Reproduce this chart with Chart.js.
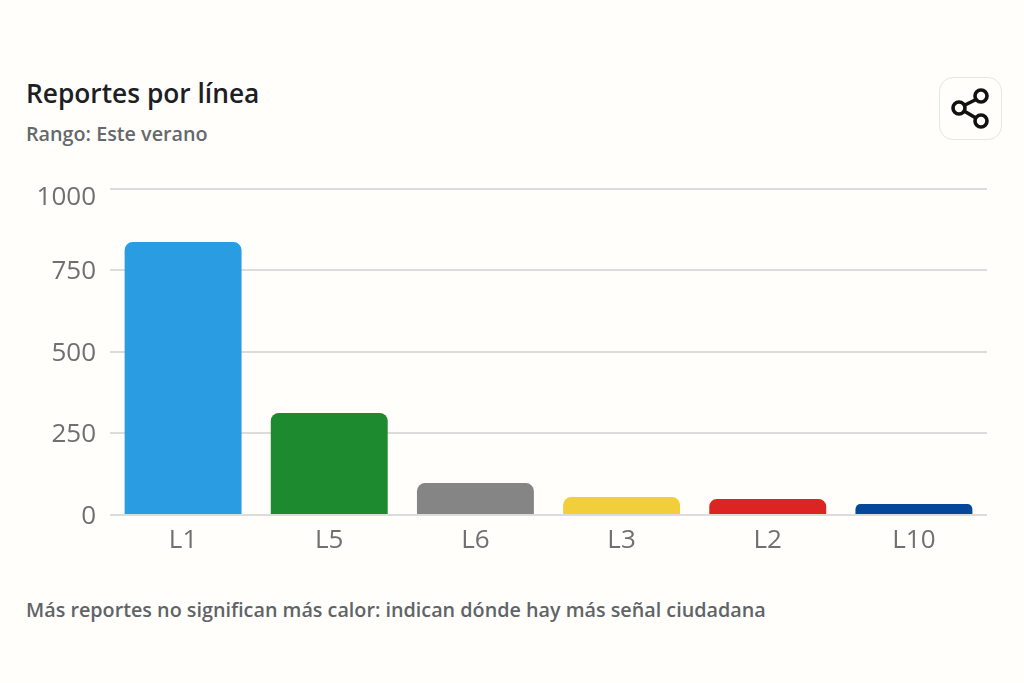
<!DOCTYPE html>
<html lang="es">
<head>
<meta charset="utf-8">
<title>Reportes por línea</title>
<script src="https://cdn.jsdelivr.net/npm/chart.js@4"></script>
<style>
  html, body { margin: 0; padding: 0; background: #fffefb; }
  body { position: relative; width: 1024px; height: 683px; overflow: hidden; font-family: "Open Sans", sans-serif; }
  .txt { position: absolute; left: 26px; white-space: nowrap; }
  #title { top: 75px; font-size: 26.3px; font-weight: 600; color: #1c2024; }
  #range { top: 120px; font-size: 19.75px; font-weight: 600; color: #63696c; }
  #note { top: 596px; font-size: 19.75px; font-weight: 600; color: #5e6467; }
  #share { position: absolute; left: 939px; top: 77px; width: 61px; height: 61px; border: 1px solid #e6e6e3; border-radius: 14px; background: #fffefb; }
  #share svg { position: absolute; left: 0; top: 0; }
  #wrap { position: absolute; left: 0; top: 158px; width: 1000px; height: 412px; }
</style>
</head>
<body>
<div class="txt" id="title">Reportes por línea</div>
<div class="txt" id="range">Rango: Este verano</div>
<div id="share">
  <svg width="61" height="61" viewBox="0 0 61 61" fill="none" stroke="#111" stroke-width="3.6">
    <line x1="19" y1="30" x2="41" y2="19"></line>
    <line x1="19" y1="30" x2="41" y2="43"></line>
    <circle cx="41" cy="18" r="6" fill="#fffefb"></circle>
    <circle cx="19" cy="30" r="6" fill="#fffefb"></circle>
    <circle cx="41" cy="43" r="6" fill="#fffefb"></circle>
  </svg>
</div>
<div id="wrap"><canvas id="chart" width="1000" height="412"></canvas></div>
<div class="txt" id="note">Más reportes no significan más calor: indican dónde hay más señal ciudadana</div>

<script>
const lines = ["L1", "L5", "L6", "L3", "L2", "L10"];
const reports = [837, 313, 98, 55, 49, 34];
const lineColors = ["#2a9de2", "#1e8a30", "#858585", "#f2cf3a", "#dc2522", "#05489b"];
const yTicks = [0, 250, 500, 750, 1000];

const tickFont = '"Open Sans", sans-serif';

new Chart(document.getElementById("chart"), {
  type: "bar",
  data: {
    labels: lines,
    datasets: [{
      data: reports,
      backgroundColor: lineColors,
      borderRadius: 8,
      barPercentage: 0.8,
      categoryPercentage: 1
    }]
  },
  options: {
    responsive: false,
    animation: false,
    layout: { padding: { top: 10, right: 13, left: 0, bottom: 0 } },
    plugins: { legend: { display: false }, tooltip: { enabled: false } },
    scales: {
      x: {
        grid: { display: false },
        border: { display: false },
        ticks: { color: "#707070", font: { family: tickFont, size: 26 }, padding: 2 },
        afterFit: (scale) => { scale.height = 55; }
      },
      y: {
        min: 0,
        max: 1000,
        afterBuildTicks: (scale) => { scale.ticks = yTicks.map((v) => ({ value: v })); },
        grid: { color: "#dcdcda", lineWidth: 2, drawTicks: false },
        border: { display: false },
        ticks: {
          color: "#707070",
          padding: 14,
          // two-line labels with a tiny line height nudge the text down; the top one sits below its grid line
          font: (ctx) => ({ family: tickFont, size: 26, lineHeight: ctx.tick && ctx.tick.value === 1000 ? 0.65 : 0.12 }),
          callback: (v) => ["", String(v)]
        },
        afterFit: (scale) => { scale.width = 110; }
      }
    }
  }
});
</script>
</body>
</html>
